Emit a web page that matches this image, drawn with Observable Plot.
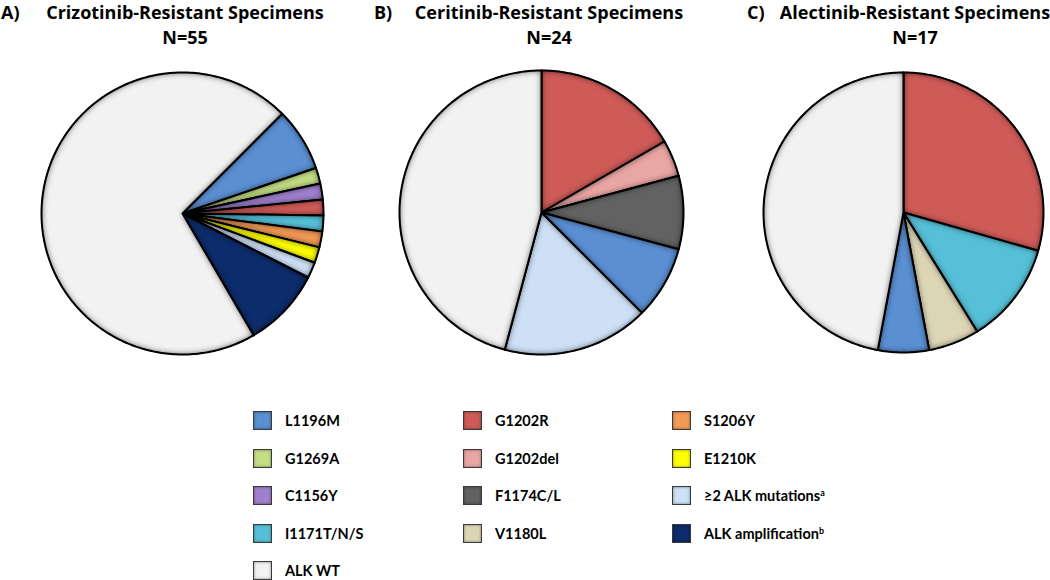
<!DOCTYPE html>
<html>
<head>
<meta charset="utf-8">
<script src="https://cdn.jsdelivr.net/npm/d3@7"></script>
<script src="https://cdn.jsdelivr.net/npm/@observablehq/plot@0.6"></script>
<style>
  html, body { margin: 0; padding: 0; background: #fff; }
  #fig { position: relative; width: 1050px; height: 580px; overflow: hidden; font-family: "Open Sans", Lato, sans-serif; color: #000; }
  .t { position: absolute; font-weight: 700; font-size: 18px; line-height: 1; white-space: nowrap; }
  .c { transform: translateX(-50%); }
  .pie { position: absolute; overflow: visible; }
  .sw { position: absolute; width: 17px; height: 17px; border: 1px solid #3a3a3a; box-shadow: inset 0 0 3px rgba(0,0,0,0.45); }
  .lab { position: absolute; font-family: Lato, "Open Sans", sans-serif; font-weight: 700; font-size: 14.5px; line-height: 1; white-space: nowrap; }
  .lab sup { font-size: 9px; vertical-align: 5px; line-height: 0; }
</style>
</head>
<body>
<div id="fig"></div>
<script>
// ---------- data ----------
const categories = ["L1196M", "G1269A", "C1156Y", "I1171T/N/S", "ALK WT",
  "G1202R", "G1202del", "F1174C/L", "V1180L",
  "S1206Y", "E1210K", "≥2 ALK mutations", "ALK amplification"];
const categoryColors = ["#5a8fd2", "#c3de84", "#9f80cf", "#56c0d8", "#f2f2f2",
  "#cf5b57", "#eaa6a5", "#626262", "#ddd6b6",
  "#f39a55", "#ffff00", "#cde0f6", "#0d2c6c"];

const crizotinibLabels = ["L1196M", "G1269A", "C1156Y", "G1202R", "I1171T/N/S", "S1206Y", "E1210K", "≥2 ALK mutations", "ALK amplification", "ALK WT"];
const crizotinibCounts = [4, 1, 1, 1, 1, 1, 1, 1, 5, 39];

const ceritinibLabels = ["G1202R", "G1202del", "F1174C/L", "L1196M", "≥2 ALK mutations", "ALK WT"];
const ceritinibCounts = [4, 1, 2, 2, 4, 11];

const alectinibLabels = ["G1202R", "I1171T/N/S", "V1180L", "L1196M", "ALK WT"];
const alectinibCounts = [5, 2, 1, 1, 8];

const panelLetters = ["A)", "B)", "C)"];
const panelTitles = ["Crizotinib-Resistant Specimens", "Ceritinib-Resistant Specimens", "Alectinib-Resistant Specimens"];
const panelN = ["N=55", "N=24", "N=17"];

const legendColumns = [
  ["L1196M", "G1269A", "C1156Y", "I1171T/N/S", "ALK WT"],
  ["G1202R", "G1202del", "F1174C/L", "V1180L"],
  ["S1206Y", "E1210K", "≥2 ALK mutations", "ALK amplification"]
];
const legendNotes = {"≥2 ALK mutations": "a", "ALK amplification": "b"};

// ---------- layout (not data) ----------
const pieLayout = [
  {cx: 181.5, cy: 212.5, r: 141, start: 45, letterX: 1, titleX: 185},
  {cx: 541, cy: 212, r: 142, start: 0, letterX: 374, titleX: 549},
  {cx: 903, cy: 212, r: 140, start: 0, letterX: 747, titleX: 915}
];

const fig = document.getElementById("fig");

function slicePoints(labels, counts, startDeg) {
  const total = d3.sum(counts);
  const rows = [];
  let acc = 0;
  const s = startDeg * Math.PI / 180;
  labels.forEach((lab, i) => {
    const a0 = s + acc / total * 2 * Math.PI;
    acc += counts[i];
    const a1 = s + acc / total * 2 * Math.PI;
    const n = Math.max(2, Math.ceil((a1 - a0) / (Math.PI / 180)));
    rows.push({slice: i, category: lab, x: 0, y: 0});
    for (let k = 0; k <= n; k++) {
      const a = a0 + (a1 - a0) * k / n;
      rows.push({slice: i, category: lab, x: Math.sin(a), y: Math.cos(a)});
    }
    rows.push({slice: i, category: lab, x: 0, y: 0});
  });
  return rows;
}

const pies = [
  [crizotinibLabels, crizotinibCounts],
  [ceritinibLabels, ceritinibCounts],
  [alectinibLabels, alectinibCounts]
];

const NS = "http://www.w3.org/2000/svg";
function el(parent, name, attrs) {
  const e = document.createElementNS(NS, name);
  for (const k in attrs) e.setAttribute(k, attrs[k]);
  parent.appendChild(e);
  return e;
}

pies.forEach(([labels, counts], p) => {
  const L = pieLayout[p];
  const m = 10;
  const size = 2 * L.r + 2 * m;
  const chart = Plot.plot({
    width: size,
    height: size,
    margin: m,
    style: {overflow: "visible"},
    x: {domain: [-1, 1], axis: null},
    y: {domain: [-1, 1], axis: null},
    color: {domain: categories, range: categoryColors},
    marks: [
      Plot.line(slicePoints(labels, counts, L.start), {
        x: "x", y: "y", z: "slice", fill: "category",
        stroke: "#000", strokeWidth: 2, strokeLinejoin: "round", curve: "linear"
      })
    ]
  });
  const fid = "bevel" + p;
  const defs = document.createElementNS(NS, "defs");
  chart.insertBefore(defs, chart.firstChild);
  const f = el(defs, "filter", {id: fid, x: "-10%", y: "-10%", width: "120%", height: "120%", "color-interpolation-filters": "sRGB"});
  el(f, "feGaussianBlur", {in: "SourceAlpha", stdDeviation: "3.5", result: "blur"});
  el(f, "feComposite", {in: "SourceAlpha", in2: "blur", operator: "arithmetic", k1: "0", k2: "1", k3: "-1", k4: "0", result: "edge"});
  el(f, "feFlood", {"flood-color": "#000", "flood-opacity": "0.9", result: "col"});
  el(f, "feComposite", {in: "col", in2: "edge", operator: "in", result: "shadow"});
  const mg = el(f, "feMerge", {});
  el(mg, "feMergeNode", {in: "SourceGraphic"});
  el(mg, "feMergeNode", {in: "shadow"});
  chart.querySelectorAll("path").forEach(pth => pth.setAttribute("filter", `url(#${fid})`));

  chart.classList.add("pie");
  chart.style.left = (L.cx - size / 2) + "px";
  chart.style.top = (L.cy - size / 2) + "px";
  fig.appendChild(chart);

  const letter = document.createElement("div");
  letter.className = "t";
  letter.textContent = panelLetters[p];
  letter.style.left = L.letterX + "px";
  letter.style.top = "3px";
  fig.appendChild(letter);

  const title = document.createElement("div");
  title.className = "t c";
  title.textContent = panelTitles[p];
  title.style.left = L.titleX + "px";
  title.style.top = "3px";
  fig.appendChild(title);

  const n = document.createElement("div");
  n.className = "t c";
  n.textContent = panelN[p];
  n.style.left = L.titleX + "px";
  n.style.top = "28px";
  fig.appendChild(n);
});

// legend
const colX = [253, 463, 672];
const labelOffset = 32;
const rowY0 = 411, rowStep = 37.5;
const colorOf = Plot.scale({color: {domain: categories, range: categoryColors}});
legendColumns.forEach((col, ci) => {
  col.forEach((cat, ri) => {
    const sw = document.createElement("div");
    sw.className = "sw";
    sw.style.left = colX[ci] + "px";
    sw.style.top = (rowY0 + ri * rowStep) + "px";
    sw.style.background = colorOf.apply(cat);
    fig.appendChild(sw);
    const lab = document.createElement("div");
    lab.className = "lab";
    lab.textContent = cat;
    if (legendNotes[cat]) {
      const sup = document.createElement("sup");
      sup.textContent = legendNotes[cat];
      lab.appendChild(sup);
    }
    lab.style.left = (colX[ci] + labelOffset) + "px";
    lab.style.top = (rowY0 + ri * rowStep + 3) + "px";
    fig.appendChild(lab);
  });
});
</script>
</body>
</html>
